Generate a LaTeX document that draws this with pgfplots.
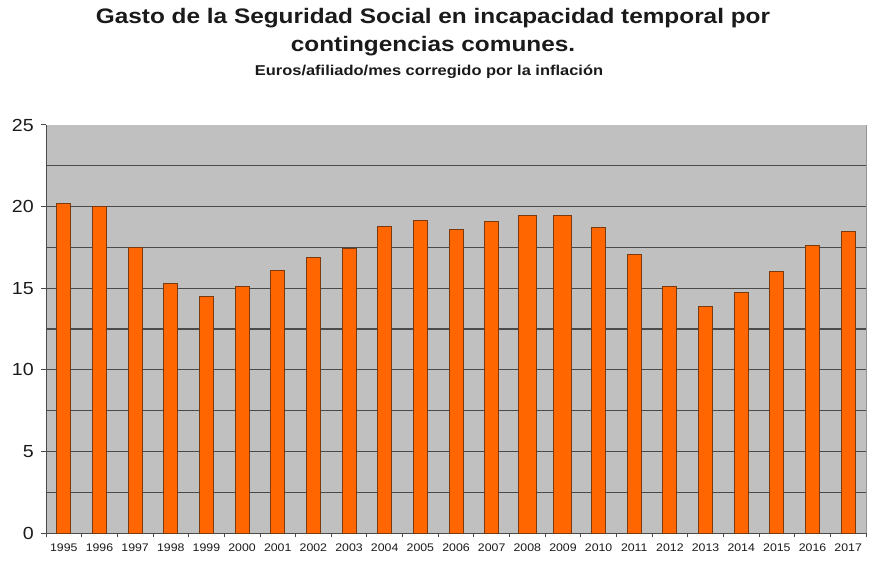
\documentclass[border=0pt]{standalone}
\usepackage{fontspec}
\setmainfont{Liberation Sans}
\usepackage{pgfplots}
\pgfplotsset{compat=1.18}
\definecolor{barorange}{HTML}{FF6600}
\definecolor{baredge}{HTML}{7A3A10}
\definecolor{plotbg}{HTML}{C0C0C0}
\definecolor{gridc}{HTML}{4A4A4A}
\definecolor{txt}{HTML}{1A1A1A}
\begin{document}
\begin{tikzpicture}[x=1pt,y=1pt]
\path[use as bounding box] (0,0) rectangle (874,562);
\node[font=\bfseries\fontsize{21}{21}\selectfont, anchor=base, inner sep=0pt, text=txt, xscale=1.16] at (433,538) {Gasto de la Seguridad Social en incapacidad temporal por};
\node[font=\bfseries\fontsize{21}{21}\selectfont, anchor=base, inner sep=0pt, text=txt, xscale=1.16] at (433,510) {contingencias comunes.};
\node[font=\bfseries\fontsize{14.3}{14.3}\selectfont, anchor=base, inner sep=0pt, text=txt, xscale=1.15] at (429,486) {Euros/afiliado/mes corregido por la inflación};
\begin{axis}[
  at={(46pt,29pt)}, anchor=south west,
  width=820pt, height=408pt, scale only axis,
  ymin=0, ymax=25, xmin=-0.5, xmax=22.5,
  axis background/.style={fill=plotbg},
  axis x line=bottom, axis y line=left,
  axis line style={-, gridc, line width=1pt},
  ytick={0,5,...,25},
  minor ytick={2.5,5,...,22.5},
  yminorgrids,
  minor y grid style={gridc, line width=1.1pt},
  minor y tick style={draw=none},
  xtick={0,...,22},
  xticklabels={1995,1996,1997,1998,1999,2000,2001,2002,2003,2004,2005,2006,2007,2008,2009,2010,2011,2012,2013,2014,2015,2016,2017},
  minor xtick={-0.5,0.5,...,22.5},
  major x tick style={draw=none},
  minor x tick style={gridc, line width=0.8pt},
  major y tick style={gridc, line width=1pt},
  tick align=outside,
  major tick length=5pt, minor tick length=4pt,
  yticklabel style={font=\fontsize{17.5}{17.5}\selectfont, text=txt, xscale=1.12, xshift=-3pt},
  xticklabel style={font=\fontsize{11}{11}\selectfont, text=txt, xscale=1.12, yshift=-2pt},
  /pgf/number format/assume math mode=true,
  ybar, bar shift=0pt,
  clip=false,
]
\addplot[fill=barorange, draw=baredge, line width=1pt, bar width=14pt] coordinates {
(0,20.2) (1,20.0) (2,17.5) (3,15.3) (4,14.5) (5,15.1) (6,16.1) (7,16.9) (8,17.45) (9,18.8) (10,19.15) (11,18.6) (12,19.1)
(15,18.7) (16,17.05) (17,15.1) (18,13.9) (19,14.75) (20,16.05) (21,17.6) (22,18.5)};
\addplot[fill=barorange, draw=baredge, line width=1pt, bar width=18pt] coordinates {
(13,19.45) (14,19.45)};
\draw[gray!70!plotbg, line width=0.8pt] (rel axis cs:1,0) -- (rel axis cs:1,1);
\end{axis}
\end{tikzpicture}
\end{document}
